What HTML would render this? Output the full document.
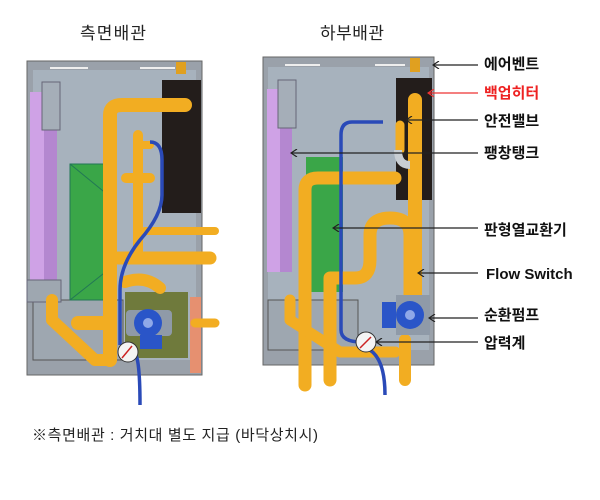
<!DOCTYPE html>
<html><head><meta charset="utf-8"><style>
html,body{margin:0;padding:0;background:#fff;}
svg{display:block}
text{font-family:"Liberation Sans","Noto Sans CJK KR",sans-serif;}
</style></head><body>
<svg width="600" height="500" viewBox="0 0 600 500" xmlns="http://www.w3.org/2000/svg">
<defs>
<marker id="ah" markerWidth="8" markerHeight="8" refX="7" refY="4" orient="auto" markerUnits="userSpaceOnUse"><path d="M1,0 L7,4 L1,8" fill="none" stroke="#222" stroke-width="1.2"/></marker>
<marker id="ahr" markerWidth="8" markerHeight="8" refX="7" refY="4" orient="auto" markerUnits="userSpaceOnUse"><path d="M1,0 L7,4 L1,8" fill="none" stroke="#e33" stroke-width="1.2"/></marker>
</defs>
<rect width="600" height="500" fill="#fff"/>
<text x="113" y="39" font-size="17" text-anchor="middle" fill="#222" textLength="66">측면배관</text>
<text x="352" y="39" font-size="17" text-anchor="middle" fill="#222" textLength="64">하부배관</text>

<!-- LEFT UNIT -->
<rect x="27" y="61" width="175" height="314" fill="#9aa1aa" stroke="#666"/>
<rect x="33" y="70" width="163" height="290" fill="#a7b2bd"/>
<rect x="33" y="300" width="90" height="60" fill="#9ea7b0" stroke="#555"/>
<line x1="50" y1="68" x2="88" y2="68" stroke="#eee" stroke-width="2"/>
<line x1="140" y1="68" x2="175" y2="68" stroke="#eee" stroke-width="2"/>
<rect x="30" y="92" width="27" height="188" fill="#cfa2e6"/>
<rect x="44" y="92" width="13" height="188" fill="#b487d0"/>
<rect x="42" y="82" width="18" height="48" fill="#a5aeb8" stroke="#667"/>
<rect x="27" y="280" width="34" height="22" fill="#9ea7b0" stroke="#667"/>
<rect x="70" y="164" width="38" height="136" fill="#3aa648" stroke="#275"/>
<line x1="70" y1="164" x2="108" y2="195" stroke="#275"/>
<line x1="70" y1="300" x2="108" y2="270" stroke="#275"/>
<rect x="162" y="80" width="39" height="133" fill="#231d1b"/>
<rect x="125" y="292" width="63" height="66" fill="#6f7a3c"/>
<rect x="190" y="297" width="11" height="76" fill="#e69070"/>
<g fill="none" stroke="#f2ad22" stroke-linecap="round" stroke-linejoin="round">
<path d="M110,360 L110,115 Q110,105 122,105 L185,105" stroke-width="14"/>
<path d="M138,135 L138,255" stroke-width="10"/>
<path d="M118,258 L210,258" stroke-width="13"/>
<path d="M145,231 L215,231" stroke-width="8"/>
<path d="M126,178 L150,178" stroke-width="10"/>
<path d="M52,300 L52,320 L95,360 L110,360" stroke-width="12"/>
<path d="M78,323 L110,323" stroke-width="14"/>
<path d="M125,282 Q145,275 160,288" stroke-width="12"/>
<path d="M140,145 L150,145" stroke-width="8"/>
<path d="M195,323 L215,323" stroke-width="9"/>
</g>
<rect x="176" y="62" width="10" height="12" fill="#e0a020"/>
<path d="M150,142 Q162,142 162,160 L162,195 Q162,215 140,240 Q120,265 120,290 L120,345" fill="none" stroke="#2a4ab8" stroke-width="3.5"/>
<path d="M136,355 Q140,365 140,405" fill="none" stroke="#2a4ab8" stroke-width="3.5"/>
<rect x="126" y="310" width="46" height="26" fill="#8f9aa8" rx="4"/>
<circle cx="148" cy="323" r="14" fill="#2a55c8"/>
<circle cx="148" cy="323" r="5" fill="#8fa8e8"/>
<rect x="140" y="335" width="22" height="14" fill="#2a55c8"/>
<circle cx="128" cy="352" r="10" fill="#f4f4f4" stroke="#333"/>
<line x1="122" y1="358" x2="132" y2="346" stroke="#c22" stroke-width="1.5"/>

<!-- RIGHT UNIT -->
<rect x="263" y="57" width="171" height="308" fill="#9aa1aa" stroke="#666"/>
<rect x="268" y="67" width="161" height="283" fill="#a7b2bd"/>
<rect x="268" y="300" width="90" height="50" fill="#9ea7b0" stroke="#555"/>
<line x1="285" y1="65" x2="320" y2="65" stroke="#eee" stroke-width="2"/>
<line x1="375" y1="65" x2="405" y2="65" stroke="#eee" stroke-width="2"/>
<rect x="267" y="89" width="25" height="183" fill="#cfa2e6"/>
<rect x="280" y="89" width="12" height="183" fill="#b487d0"/>
<rect x="278" y="80" width="18" height="48" fill="#a5aeb8" stroke="#667"/>
<rect x="306" y="157" width="37" height="135" fill="#3aa648"/>
<rect x="396" y="78" width="36" height="122" fill="#231d1b"/>
<g fill="none" stroke="#f2ad22" stroke-linecap="round" stroke-linejoin="round">
<path d="M415,100 L415,300" stroke-width="14"/>
<path d="M305,385 L305,190 Q305,178 318,178 L395,178" stroke-width="13"/>
<path d="M330,380 L330,278 L355,278 Q370,278 370,260 L370,235 Q370,218 390,218 Q410,218 410,235 L410,300" stroke-width="13"/>
<path d="M290,300 L290,320 L340,352 L395,352" stroke-width="11"/>
<path d="M400,125 L400,150" stroke-width="9"/>
<path d="M405,340 L405,380" stroke-width="12"/>
</g>
<path d="M398,150 Q398,165 410,165" fill="none" stroke="#c8cdd2" stroke-width="8"/>
<rect x="410" y="58" width="10" height="14" fill="#e0a020"/>
<path d="M383,122 L352,122 Q341,122 341,135 L341,330 Q341,342 362,342" fill="none" stroke="#2a4ab8" stroke-width="3.5"/>
<path d="M370,350 Q385,360 385,395" fill="none" stroke="#2a4ab8" stroke-width="3.5"/>
<rect x="396" y="295" width="34" height="40" fill="#8f9aa8"/>
<rect x="382" y="302" width="14" height="26" fill="#2a55c8"/>
<circle cx="410" cy="315" r="14" fill="#2a55c8"/>
<circle cx="410" cy="315" r="5" fill="#8fa8e8"/>
<circle cx="366" cy="342" r="10" fill="#f4f4f4" stroke="#333"/>
<line x1="360" y1="348" x2="371" y2="337" stroke="#c22" stroke-width="1.5"/>

<!-- LABELS -->
<g stroke="#222" stroke-width="1.2">
<line x1="478" y1="65" x2="433" y2="65" marker-end="url(#ah)"/>
<line x1="478" y1="120" x2="406" y2="120" marker-end="url(#ah)"/>
<line x1="478" y1="153" x2="291" y2="153" marker-end="url(#ah)"/>
<line x1="478" y1="228" x2="333" y2="228" marker-end="url(#ah)"/>
<line x1="478" y1="273" x2="418" y2="273" marker-end="url(#ah)"/>
<line x1="478" y1="318" x2="429" y2="318" marker-end="url(#ah)"/>
<line x1="478" y1="342" x2="376" y2="342" marker-end="url(#ah)"/>
</g>
<line x1="478" y1="93" x2="428" y2="93" stroke="#e33" stroke-width="1.2" marker-end="url(#ahr)"/>
<g font-size="15" font-weight="bold" fill="#111">
<text x="484" y="69">에어벤트</text>
<text x="484" y="98" fill="#ee2222">백업히터</text>
<text x="484" y="126">안전밸브</text>
<text x="484" y="158">팽창탱크</text>
<text x="484" y="235">판형열교환기</text>
<text x="486" y="279">Flow Switch</text>
<text x="484" y="320">순환펌프</text>
<text x="484" y="348">압력계</text>
</g>
<text x="32" y="440" font-size="15" fill="#222" textLength="286">※측면배관 : 거치대 별도 지급 (바닥상치시)</text>
</svg>
</body></html>
